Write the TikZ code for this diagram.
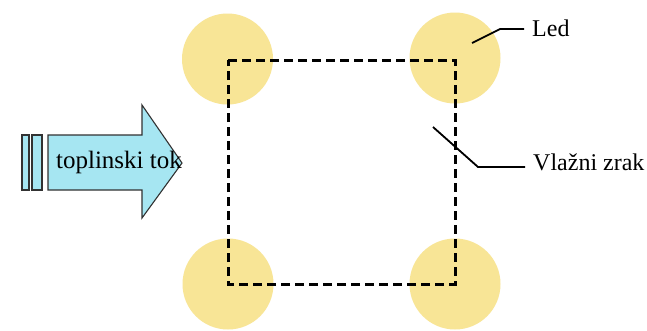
\documentclass[tikz,border=0pt]{standalone}
\usepackage{fontspec}
\setmainfont{Liberation Serif}
\definecolor{icey}{RGB}{248,229,150}
\definecolor{flowc}{RGB}{166,230,242}
\definecolor{edgec}{RGB}{50,50,50}
\begin{document}
\begin{tikzpicture}[x=1pt,y=-1pt,
  ice/.style={circle,fill=icey,minimum size=91pt,inner sep=0pt},
  lbl/.style={anchor=base west,inner sep=0pt,font=\fontsize{24}{28}\selectfont},
  leader/.style={line width=1.8pt,black},
  border/.style={line width=3pt,black,dash pattern=on 9pt off 5pt},
  flow/.style={fill=flowc,draw=edgec,line width=1.1pt,line join=miter}]
\useasboundingbox (0,0) rectangle (647,330);
\fill[white] (0,0) rectangle (647,330);
% ice circles
\node[ice] (c1) at (227.5,59) {};
\node[ice] (c2) at (455,58) {};
\node[ice] (c3) at (228,284) {};
\node[ice] (c4) at (455,284) {};
% dashed boundary
\draw[border] (228,60) -- (455,60) -- (455,284) -- (228,284) -- cycle;
% heat flow arrow
\draw[flow] (22,135) rectangle (29,190);
\draw[flow] (32,135) rectangle (42,190);
\draw[flow] (48,135) -- (142,135) -- (142,105) -- (182,163) -- (142,218) -- (142,190) -- (48,190) -- cycle;
\node[anchor=base,inner sep=0pt,font=\fontsize{25}{30}\selectfont] (flowtext) at (119,168) {toplinski tok};
% labels
\node[lbl] (led) at (532,36) {Led};
\node[lbl] (air) at (533,170) {Vlažni zrak};
\coordinate (ledA) at (472,43);
\coordinate (ledB) at (500,29);
\coordinate (airA) at (433,127);
\coordinate (airB) at (478,167);
\draw[leader] (ledA) -- (ledB) -- ([xshift=-8pt]ledB -| led.west);
\draw[leader] (airA) -- (airB) -- ([xshift=-8pt]airB -| air.west);
\end{tikzpicture}
\end{document}
